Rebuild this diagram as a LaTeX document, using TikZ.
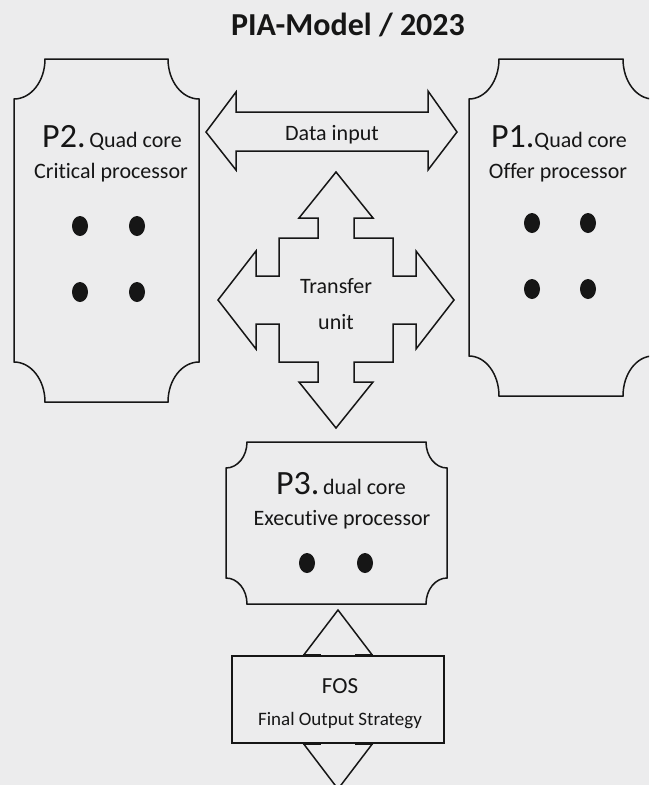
\documentclass[tikz,border=0pt]{standalone}
\usepackage{fontspec}
\setmainfont{Carlito}[Ligatures=NoCommon]
\usetikzlibrary{shapes.geometric}
\definecolor{paper}{RGB}{236,236,237}
\definecolor{ink}{RGB}{22,22,22}
\tikzset{
    block-arrow/.style = {draw=ink, fill=paper, line width=1.5pt, line join=miter},
    proc-frame/.style = {draw=ink, line width=1.5pt},
    core-dot/.style = {fill=ink, ellipse, minimum width=16pt, minimum height=20pt, inner sep=0pt},
    label-text/.style = {text=ink, font=\fontsize{22}{24}\selectfont, inner sep=0pt, anchor=base},
}
\newcommand{\bigsz}{\fontsize{34}{36}\selectfont}
% frame with hollow corners: x1 y1 x2 y2 rx ry
\newcommand{\procframe}[6]{%
  \draw[proc-frame] (#1,#2+#6) arc[start angle=90,end angle=0,x radius=#5,y radius=#6]
    -- (#3-#5,#2) arc[start angle=180,end angle=90,x radius=#5,y radius=#6]
    -- (#3,#4-#6) arc[start angle=270,end angle=180,x radius=#5,y radius=#6]
    -- (#1+#5,#4) arc[start angle=0,end angle=-90,x radius=#5,y radius=#6]
    -- cycle;}

\begin{document}
\begin{tikzpicture}[x=1pt, y=-1pt]
\clip (0,0) rectangle (649,785);
\fill[paper] (0,0) rectangle (649,785);

\node[label-text, font=\bfseries\fontsize{32}{34}\selectfont] (title) at (348,35) {PIA-Model / 2023};

% processors
\procframe{14}{59}{199}{402}{31}{40}
\procframe{469}{59}{653}{396}{30}{40}
\procframe{226}{442}{447}{604}{21}{26}

\node[label-text] (p2-head) at (112,147) {{\bigsz P2.}\,Quad core};
\node[label-text] (p2-name) at (111,178) {Critical processor};
\node[label-text] (p1-head) at (559,147) {{\bigsz P1.}Quad core};
\node[label-text] (p1-name) at (558,178) {Offer processor};
\node[label-text] (p3-head) at (341,494) {{\bigsz P3.}\,dual core};
\node[label-text] (p3-name) at (342,525) {Executive processor};

\foreach \cx in {80,137} \foreach \cy in {226,292}
    \node[core-dot] (p2-core-\cx-\cy) at (\cx,\cy) {};
\foreach \cx in {532,588} \foreach \cy in {223,289}
    \node[core-dot] (p1-core-\cx-\cy) at (\cx,\cy) {};
\foreach \cx in {307,365}
    \node[core-dot] (p3-core-\cx) at (\cx,563) {};

% data input
\draw[block-arrow] (206,132) -- (236,92) -- (236,112) -- (428,112) -- (428,91) -- (457,132)
    -- (428,170) -- (428,151) -- (236,151) -- (236,170) -- cycle;
\node[label-text] (data-label) at (332,140) {Data input};

% transfer unit
\draw[block-arrow, shift={(336,300)}] (0,-128) -- (37,-82) -- (18,-82) -- (18,-62) -- (57,-62)
    -- (57,-24) -- (80,-24) -- (80,-49) -- (118,0) -- (80,49) -- (80,24) -- (57,24) -- (57,62)
    -- (18,62) -- (18,82) -- (37,82) -- (0,128) -- (-37,82) -- (-18,82) -- (-18,62) -- (-57,62)
    -- (-57,24) -- (-80,24) -- (-80,49) -- (-118,0) -- (-80,-49) -- (-80,-24) -- (-57,-24)
    -- (-57,-62) -- (-18,-62) -- (-18,-82) -- (-37,-82) -- cycle;
\node[label-text] (transfer-label) at (336,293) {Transfer};
\node[label-text] (unit-label) at (336,329) {unit};

% final output strategy
\draw[block-arrow, shift={(338,0)}] (0,610) -- (35,656) -- (17,656) -- (17,743) -- (35,743)
    -- (0,789) -- (-35,743) -- (-17,743) -- (-17,656) -- (-35,656) -- cycle;
\node[draw=ink, fill=paper, line width=1.5pt, minimum width=212pt, minimum height=87pt, inner sep=0pt] (fos) at (338,699.5) {};
\foreach \side in {north,south}
    \draw[ink, line width=3pt] ([xshift=-35pt]fos.\side) -- ([xshift=-17pt]fos.\side)
        ([xshift=17pt]fos.\side) -- ([xshift=35pt]fos.\side);
\node[label-text, font=\fontsize{23}{24}\selectfont] (fos-label) at (340,693) {FOS};
\node[label-text, font=\fontsize{19}{20}\selectfont] (fos-name) at (340,725) {Final Output Strategy};
\end{tikzpicture}
\end{document}
